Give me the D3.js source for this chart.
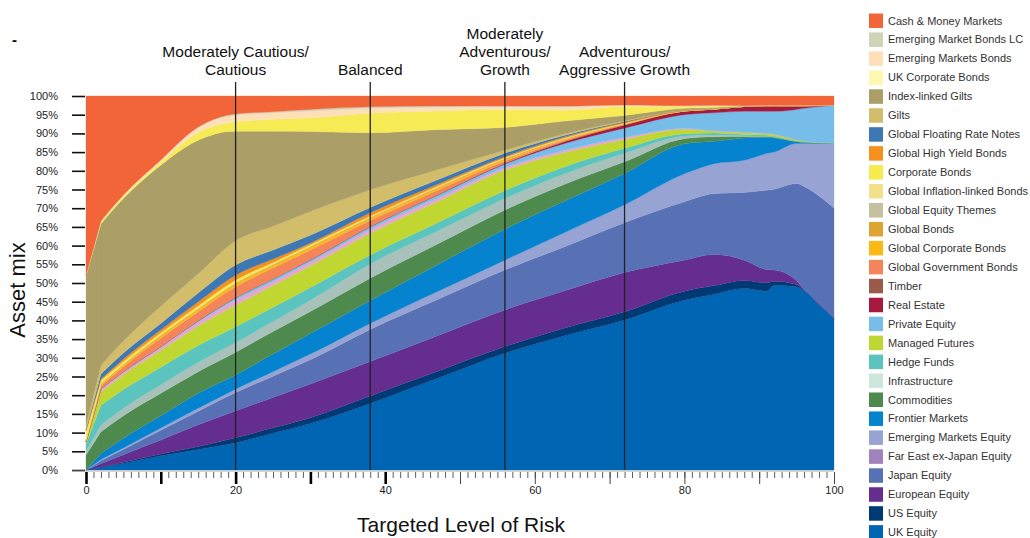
<!DOCTYPE html>
<html>
<head>
<meta charset="utf-8">
<script src="https://cdnjs.cloudflare.com/ajax/libs/d3/7.8.5/d3.min.js"></script>
<style>
body { margin: 0; background: #fff; }
svg { font-family: "Liberation Sans", Arial, sans-serif; }
</style>
</head>
<body>
<script>

// ---------------------------------------------------------------------------
// Data (percent of portfolio at each targeted level of risk)

var risk = [0, 2, 5, 10, 15, 20, 25, 30, 38, 47, 56, 64, 72, 80, 84, 88, 91, 92, 95, 96, 100];

var ukEquity       = [0, .7, 1.8, 3.8, 5.5, 7.3, 9.8, 12.4, 17.8, 24.5, 31.2, 35.9, 40.1, 45.4, 47.0, 48.5, 47.8, 49.3, 49.0, 47.9, 40.5];
var usEquity       = [0, .1, .3, .5, .8, 1.3, 1.5, 1.6, 2.0, 1.9, 1.8, 2.1, 2.2, 2.4, 2.3, 2.2, 2.3, 1.2, .6, .2, 0];
var europeanEquity = [0, .9, 2.0, 3.7, 5.8, 7.2, 8.1, 9.0, 9.2, 9.5, 9.8, 9.9, 10.5, 8.3, 8.3, 5.4, 3.5, 3.0, 1.0, .2, 0];
var japanEquity    = [0, .8, 1.4, 2.6, 3.6, 4.9, 5.7, 6.5, 8.6, 9.7, 10.7, 11.8, 13.3, 15.6, 16.3, 18.1, 21.2, 21.6, 26.0, 27.5, 29.5];
var emEquity       = [0, .3, .4, .6, .8, .9, 1.2, 1.5, 1.6, 2.1, 2.6, 3.8, 4.8, 7.5, 8.0, 8.6, 9.8, 9.9, 10.7, 11.5, 17.3];
var frontier       = [0, 1.6, 2.6, 3.3, 4.0, 3.8, 4.7, 5.5, 6.1, 7.2, 8.3, 8.4, 8.4, 8.0, 6.0, 6.0, 4.4, 3.8, .5, .3, .1];
var commodities    = [4.0, 5.8, 6.0, 6.0, 5.8, 6.1, 6.0, 5.9, 6.0, 5.5, 5.1, 4.5, 3.1, 1.4, 1.2, .4, .2, .2, .1, .1, 0];
var infrastructure = [1.0, 1.8, 2.0, 2.3, 2.5, 2.6, 2.7, 3.0, 3.8, 3.5, 3.1, 2.8, 2.3, .7, .5, .2, .1, .1, 0, 0, 0];
var hedgeFunds     = [2.0, 5.3, 5.0, 4.7, 4.5, 4.2, 3.8, 3.4, 2.4, 2.2, 2.1, 1.9, 1.3, .6, .5, .3, .2, .2, .1, .1, 0];
var managedFutures = [.5, 3.6, 4.0, 4.5, 5.2, 5.8, 5.8, 5.8, 5.8, 5.7, 5.5, 3.8, 2.4, 1.2, .5, .5, .4, .4, .3, .2, .1];
var farEast        = [0, .6, .6, .8, 1.0, 1.4, 1.1, 1.0, 1.1, .9, .7, .6, .5, .2, .1, .1, .1, .1, 0, 0, 0];
var privateEquity  = [0, .2, .2, .2, .4, .6, .7, .6, .7, .8, .9, 1.8, 2.5, 3.7, 4.8, 5.6, 5.9, 6.1, 8.1, 8.7, 10.0];
var realEstate     = [0, 0, 0, 0, 0, 0, 0, 0, 0, .1, .2, .5, .8, .9, .9, 1.3, 1.5, 1.5, 1.0, .7, 0];
var timber         = [0, 0, 0, 0, 0, 0, 0, 0, 0, 0, 0, .1, .1, .1, .1, 0, 0, 0, 0, 0, 0];
var govBonds       = [.3, .8, 1.3, 2.2, 2.4, 2.9, 2.9, 2.6, 1.6, 1.2, .6, .3, .1, 0, 0, 0, 0, 0, 0, 0, 0];
var corpBondsGlb   = [.2, .4, .5, .6, .6, .7, .7, .7, .6, .5, .4, .2, .1, 0, 0, 0, 0, 0, 0, 0, 0];
var globalBonds    = [0, .1, .1, .2, .2, .2, .2, .2, .2, .2, .2, .1, .1, 0, 0, 0, 0, 0, 0, 0, 0];
var equityThemes   = [0, .1, .1, .1, .1, .1, .1, .1, .1, .1, .1, .1, 0, 0, 0, 0, 0, 0, 0, 0, 0];
var inflationBonds = [0, .1, .1, .1, .1, .1, .1, .1, .1, .1, .1, .1, .1, 0, 0, 0, 0, 0, 0, 0, 0];
var corpBonds      = [2.5, .8, .6, .5, .6, .7, .4, .3, .2, .2, .1, .1, 0, 0, 0, 0, 0, 0, 0, 0, 0];
var highYield      = [0, .3, .7, .8, 1.1, 1.3, .9, .5, .9, .5, .3, .3, .3, .2, .1, 0, 0, 0, 0, 0, 0];
var floatingRate   = [.3, 1.4, 1.6, 1.7, 2.3, 2.7, 2.4, 2.1, 1.4, 1.2, .9, .4, .2, 0, 0, 0, 0, 0, 0, 0, 0];
var gilts          = [1.0, 2.3, 3.2, 4.6, 5.2, 6.5, 6.4, 6.3, 4.7, 2.7, .8, .4, .2, .1, .1, 0, 0, 0, 0, 0, 0];
var indexGilts     = [40.2, 37.8, 38.1, 37.7, 35.7, 29.3, 25.4, 21.4, 15.3, 10.7, 6.1, 3.4, 1.4, .4, .2, .1, 0, 0, 0, 0, 0];
var ukCorpBonds    = [0, .5, .5, .8, 2.0, 2.5, 3.2, 3.7, 5.2, 5.0, 4.7, 2.9, 2.4, .5, .4, .1, .1, .1, .1, .1, 0];
var emBonds        = [0, .2, .3, .5, 1.3, 1.8, 1.7, 1.8, 1.3, 1.0, .8, .8, .3, .1, .1, 0, 0, 0, 0, 0, 0];
var emBondsLC      = [0, .1, .1, .1, .2, .3, .3, .4, .4, .3, .2, .3, .1, .1, .1, 0, 0, 0, 0, 0, 0];
var cash           = [48.0, 33.4, 26.5, 17.1, 8.3, 4.8, 4.2, 3.6, 2.9, 2.7, 2.7, 2.7, 2.4, 2.6, 2.5, 2.6, 2.5, 2.5, 2.5, 2.5, 2.5];

// Legend entries, top to bottom: [name, values, legend colour, fill in chart]
var legendItems = [
    ['Cash & Money Markets', cash, '#f26539'],
    ['Emerging Market Bonds LC', emBondsLC, '#cfd4b8'],
    ['Emerging Markets Bonds', emBonds, '#fde0b8'],
    ['UK Corporate Bonds', ukCorpBonds, '#fef8b0', '#f6ea55'],
    ['Index-linked Gilts', indexGilts, '#ab9e67'],
    ['Gilts', gilts, '#d2bd6a'],
    ['Global Floating Rate Notes', floatingRate, '#3d78b4'],
    ['Global High Yield Bonds', highYield, '#f6901e'],
    ['Corporate Bonds', corpBonds, '#f7ea4c'],
    ['Global Inflation-linked Bonds', inflationBonds, '#f3e08a'],
    ['Global Equity Themes', equityThemes, '#c5c0a0'],
    ['Global Bonds', globalBonds, '#dea432'],
    ['Global Corporate Bonds', corpBondsGlb, '#fdb913'],
    ['Global Government Bonds', govBonds, '#f4845a'],
    ['Timber', timber, '#9b5b4b'],
    ['Real Estate', realEstate, '#a8193f'],
    ['Private Equity', privateEquity, '#76bde9'],
    ['Managed Futures', managedFutures, '#bfd730'],
    ['Hedge Funds', hedgeFunds, '#5bc4bf'],
    ['Infrastructure', infrastructure, '#cce8dc', '#a8c1bb'],
    ['Commodities', commodities, '#4e8a4d'],
    ['Frontier Markets', frontier, '#0683cf'],
    ['Emerging Markets Equity', emEquity, '#97a4d3'],
    ['Far East ex-Japan Equity', farEast, '#a182bc', '#e4a7cf'],
    ['Japan Equity', japanEquity, '#5871b4'],
    ['European Equity', europeanEquity, '#642d8f'],
    ['US Equity', usEquity, '#003a75'],
    ['UK Equity', ukEquity, '#0066b3']
];

// Order of the layers in the chart, bottom to top
var stackOrder = ['UK Equity', 'US Equity', 'European Equity', 'Japan Equity',
    'Emerging Markets Equity', 'Frontier Markets', 'Commodities', 'Infrastructure',
    'Hedge Funds', 'Managed Futures', 'Far East ex-Japan Equity', 'Private Equity',
    'Real Estate', 'Timber', 'Global Government Bonds', 'Global Corporate Bonds',
    'Global Bonds', 'Global Equity Themes', 'Global Inflation-linked Bonds',
    'Corporate Bonds', 'Global High Yield Bonds', 'Global Floating Rate Notes', 'Gilts',
    'Index-linked Gilts', 'UK Corporate Bonds', 'Emerging Markets Bonds',
    'Emerging Market Bonds LC', 'Cash & Money Markets'];

var profileRisk = [20, 38, 56, 72];
var profileLabels = [
    ['Moderately Cautious/', 'Cautious'],
    ['Balanced'],
    ['Moderately', 'Adventurous/', 'Growth'],
    ['Adventurous/', 'Aggressive Growth']
];

var yTicks = d3.range(0, 101, 5);
var xLabelTicks = [0, 20, 40, 60, 80, 100];


// ---------------------------------------------------------------------------
// Build the chart

var chartW = 1030, chartH = 538;
var plotLeft = 86, plotRight = 834, plotTop = 96, plotBottom = 470;

var svg = d3.select('body').append('svg')
    .attr('width', chartW)
    .attr('height', chartH);

var x = d3.scaleLinear().domain([0, 100]).range([plotLeft, plotRight]);
var y = d3.scaleLinear().domain([0, 100]).range([plotBottom, plotTop]);

// lookup name -> entry
var byName = {};
legendItems.forEach(function (d) {
    byName[d[0]] = { values: d[1], colour: d[2], fill: d[3] || d[2] };
});

// rows for d3.stack
var rows = risk.map(function (r, i) {
    var row = { risk: r };
    stackOrder.forEach(function (k) { row[k] = byName[k].values[i]; });
    return row;
});

var layers = d3.stack().keys(stackOrder)(rows);

// straight first segment (sharp corner at risk 2), smooth afterwards
function makeArea(curve) {
    return d3.area()
        .curve(curve)
        .x(function (d) { return x(d.data.risk); })
        .y0(function (d) { return y(d[0]); })
        .y1(function (d) { return y(d[1]); });
}
var areaStart = makeArea(d3.curveLinear);
var areaRest = makeArea(d3.curveMonotoneX);

svg.append('g').attr('class', 'layers')
    .selectAll('path')
    .data(layers)
    .enter().append('path')
    .attr('d', function (d) {
        return areaStart(d.slice(0, 2)) + areaRest(d.slice(1));
    })
    .attr('fill', function (d) { return byName[d.key].fill; })
    .attr('stroke', function (d) { return byName[d.key].fill; })
    .attr('stroke-width', 0.3);

// Risk profile markers
var prof = svg.append('g').attr('class', 'profiles');
profileRisk.forEach(function (r, i) {
    prof.append('line')
        .attr('x1', x(r)).attr('x2', x(r))
        .attr('y1', 82).attr('y2', plotBottom)
        .attr('stroke', '#222')
        .attr('stroke-width', 1.3);
    var lines = profileLabels[i];
    lines.forEach(function (t, j) {
        prof.append('text')
            .attr('x', x(r))
            .attr('y', 75 - (lines.length - 1 - j) * 18)
            .attr('text-anchor', 'middle')
            .attr('font-size', 15.5)
            .attr('fill', '#111')
            .text(t);
    });
});

// Y axis
var yAxis = svg.append('g')
    .attr('transform', 'translate(85,0)')
    .call(d3.axisLeft(y)
        .tickValues(yTicks)
        .tickSize(13)
        .tickPadding(14)
        .tickFormat(function (d) { return d + '%'; }));
yAxis.select('.domain').remove();
yAxis.selectAll('line').attr('stroke', '#111').attr('stroke-width', 1.6);
yAxis.selectAll('text').attr('font-size', 11).attr('fill', '#222');

// X axis: minor, major and labels
var xMinor = svg.append('g')
    .attr('transform', 'translate(0,' + (plotBottom + 2) + ')')
    .call(d3.axisBottom(x).tickValues(d3.range(0, 101, 1)).tickSize(6).tickFormat(''));
xMinor.select('.domain').remove();
xMinor.selectAll('line').attr('stroke', '#333').attr('stroke-width', 0.8);

var xMajor = svg.append('g')
    .attr('transform', 'translate(0,' + (plotBottom + 2) + ')')
    .call(d3.axisBottom(x).tickValues(d3.range(0, 101, 10)).tickSize(12).tickFormat(''));
xMajor.select('.domain').remove();
xMajor.selectAll('line')
    .attr('stroke', function (d) { return d <= 40 ? '#000' : '#444'; })
    .attr('stroke-width', function (d) { return d <= 40 ? 2.6 : 1; });

var xLab = svg.append('g')
    .attr('transform', 'translate(0,' + (plotBottom + 2) + ')')
    .call(d3.axisBottom(x).tickValues(xLabelTicks).tickSize(0).tickPadding(14));
xLab.select('.domain').remove();
xLab.selectAll('text').attr('font-size', 11).attr('fill', '#222');

// baseline
svg.append('line')
    .attr('x1', 72).attr('x2', plotRight)
    .attr('y1', plotBottom + 1).attr('y2', plotBottom + 1)
    .attr('stroke', '#999').attr('stroke-width', 0.8);

// Axis titles
svg.append('text')
    .attr('x', 461).attr('y', 532)
    .attr('text-anchor', 'middle')
    .attr('font-size', 21)
    .attr('fill', '#111')
    .text('Targeted Level of Risk');

svg.append('text')
    .attr('transform', 'translate(25,290) rotate(-90)')
    .attr('text-anchor', 'middle')
    .attr('font-size', 22)
    .attr('fill', '#111')
    .text('Asset mix');

svg.append('text')
    .attr('x', 12).attr('y', 45)
    .attr('font-size', 15)
    .attr('font-weight', 'bold')
    .text('-');

// Legend
var legend = svg.append('g').attr('class', 'legend');
legendItems.forEach(function (d, i) {
    var cy = 20.5 + i * 18.95;
    legend.append('rect')
        .attr('x', 869).attr('y', cy - 7)
        .attr('width', 14).attr('height', 14.5)
        .attr('fill', d[2]);
    legend.append('text')
        .attr('x', 888).attr('y', cy + 4)
        .attr('font-size', 11)
        .attr('fill', '#333')
        .text(d[0]);
});

</script>
</body>
</html>
